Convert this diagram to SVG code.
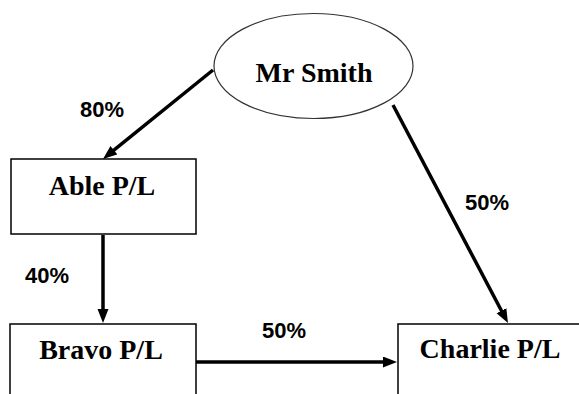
<svg xmlns="http://www.w3.org/2000/svg" width="579" height="394" viewBox="0 0 579 394">
<style>
.box{fill:#fff;stroke:#000;stroke-width:1.5}
.ell{fill:#fff;stroke:#333;stroke-width:1.2}
.name{font-family:"Liberation Serif","Times New Roman",serif;font-weight:bold;font-size:28px;text-anchor:middle;fill:#000}
.pct{font-family:"Liberation Sans",Arial,sans-serif;font-weight:bold;font-size:22px;fill:#000}
.conn line{stroke:#000;stroke-width:3.5;marker-end:url(#ah)}
</style>
<defs>
<marker id="ah" markerUnits="userSpaceOnUse" markerWidth="16" markerHeight="12" refX="4" refY="5.5" orient="auto">
<path d="M0,0 L14,5.5 L0,11 z" fill="#000"/>
</marker>
</defs>
<rect width="579" height="394" fill="#fff"/>
<g id="mr-smith">
<ellipse class="ell" cx="313.5" cy="66" rx="99.5" ry="52.5"/>
<text class="name" x="314" y="82">Mr Smith</text>
</g>
<g id="able">
<rect class="box" x="11" y="159" width="185" height="75"/>
<text class="name" x="102" y="195">Able P/L</text>
</g>
<g id="bravo">
<rect class="box" x="10" y="324" width="186" height="80"/>
<text class="name" x="101" y="359">Bravo P/L</text>
</g>
<g id="charlie">
<rect class="box" x="398" y="324" width="190" height="80"/>
<text class="name" x="490" y="358">Charlie P/L</text>
</g>
<g id="connectors" class="conn">
<line x1="213" y1="70" x2="110.8" y2="152.7"/>
<line x1="103" y1="235" x2="103" y2="313"/>
<line x1="196" y1="362" x2="387" y2="362"/>
<line x1="393" y1="105" x2="503.3" y2="314.2"/>
</g>
<g id="labels">
<text class="pct" x="80" y="117">80%</text>
<text class="pct" x="25" y="283">40%</text>
<text class="pct" x="262" y="338">50%</text>
<text class="pct" x="465" y="210">50%</text>
</g>
</svg>
